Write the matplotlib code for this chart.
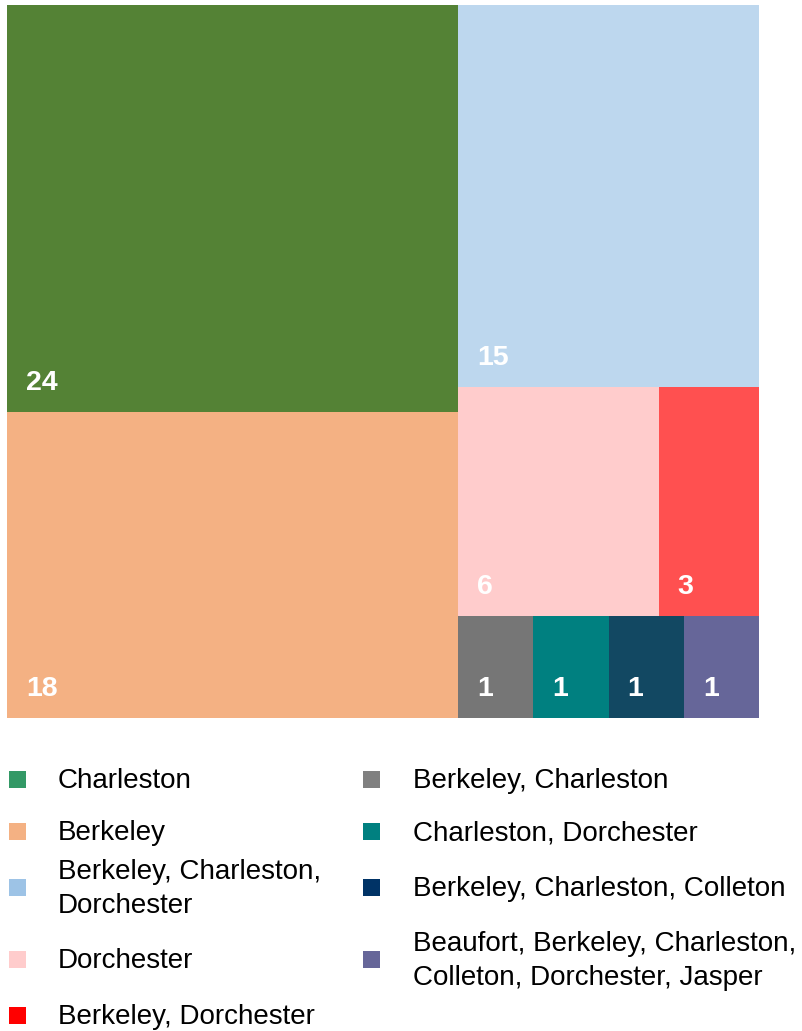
import matplotlib.pyplot as plt
from matplotlib.patches import Rectangle

# datos del treemap
categorias = ["Charleston", "Berkeley", "Berkeley, Charleston,\nDorchester", "Dorchester",
              "Berkeley, Dorchester", "Berkeley, Charleston", "Charleston, Dorchester",
              "Berkeley, Charleston, Colleton",
              "Beaufort, Berkeley, Charleston,\nColleton, Dorchester, Jasper"]
valores = [24, 18, 15, 6, 3, 1, 1, 1, 1]
colores = ["#548235", "#F4B183", "#BDD7EE", "#FFCCCC", "#FF5050",
           "#767676", "#008080", "#124862", "#666699"]
colores_leyenda = ["#339966", "#F4B183", "#9DC3E6", "#FFCCCC", "#FF0000",
                   "#808080", "#008080", "#003366", "#666699"]
# grupos del layout (indices)
grupos = [[0, 1], [2], [3, 4], [5, 6, 7, 8]]

W, H = 803, 1031
fig = plt.figure(figsize=(W / 100, H / 100), dpi=100)
x0, y0, x1, y1 = 7, 5, 759, 718  # area en pixeles
ax = fig.add_axes([x0 / W, 1 - y1 / H, (x1 - x0) / W, (y1 - y0) / H])
ax.set_xlim(0, 1)
ax.set_ylim(1, 0)
ax.axis("off")

total = sum(valores)
rects = {}
# primera columna a la izquierda
g0 = sum(valores[i] for i in grupos[0])
ancho0 = g0 / total
y = 0
for i in grupos[0]:
    h = valores[i] / g0
    rects[i] = (0, y, ancho0, h)
    y += h
# resto: filas a lo ancho
resto = total - g0
y = 0
for g in grupos[1:]:
    sg = sum(valores[i] for i in g)
    h = sg / resto
    x = ancho0
    for i in g:
        w = (1 - ancho0) * valores[i] / sg
        rects[i] = (x, y, w, h)
        x += w
    y += h

for i, (rx, ry, rw, rh) in rects.items():
    ax.add_patch(Rectangle((rx, ry), rw, rh, facecolor=colores[i], edgecolor="none"))
    ax.annotate(str(valores[i]), (rx, ry + rh), xytext=(19, 22), textcoords="offset pixels",
                ha="left", va="baseline", color="white", fontsize=20.5, fontweight="bold",
                family="Liberation Sans")

# leyenda manual
filas_y = [779, 831, 887, 959, 1015]
columnas = [(9, 58, [0, 1, 2, 3, 4]), (363, 413, [5, 6, 7, 8])]
for mx, tx, idxs in columnas:
    for fila, i in enumerate(idxs):
        yc = filas_y[fila]
        fig.patches.append(Rectangle((mx / W, 1 - (yc + 8.5) / H), 17 / W, 17 / H,
                                     transform=fig.transFigure, facecolor=colores_leyenda[i],
                                     edgecolor="none"))
        fig.text(tx / W, 1 - (yc + 2) / H, categorias[i], ha="left", va="center", fontsize=20,
                 color="black", family="Liberation Sans", linespacing=1.36)

fig.savefig("out.png", dpi=100)
